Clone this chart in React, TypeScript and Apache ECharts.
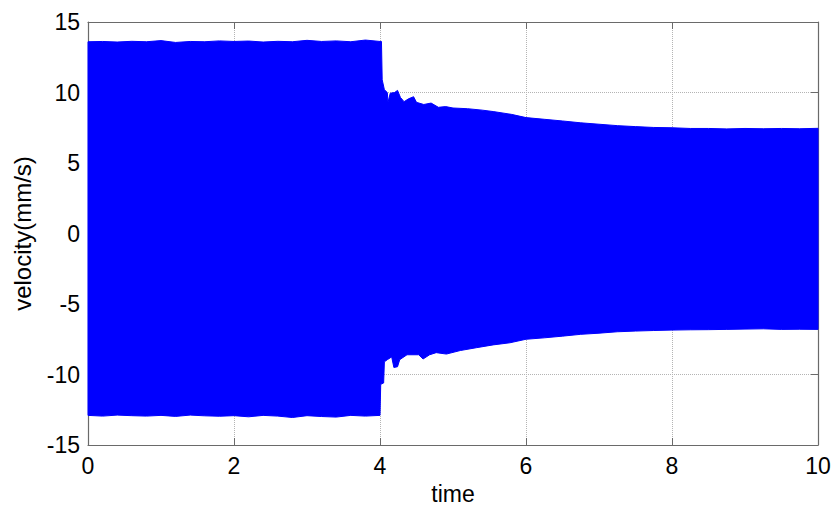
import React, { useEffect, useRef } from "react";
import * as echarts from "echarts";

// Upper envelope of the oscillating velocity signal (time, mm/s)
const upperTimes = [
  0, 0.2, 0.4, 0.6, 0.8, 1.0, 1.2, 1.4, 1.6, 1.8, 2.0, 2.2, 2.4, 2.6, 2.8, 3.0, 3.2, 3.4, 3.6, 3.8, 4.0, 4.02,
  4.03, 4.06, 4.1, 4.11, 4.14, 4.2, 4.24, 4.28, 4.33, 4.39, 4.46, 4.5, 4.6, 4.7, 4.8, 4.9, 5.0, 5.2, 5.4, 5.55,
  5.8, 6.0, 6.25, 6.5, 6.75, 7.0, 7.25, 7.5, 7.75, 8.0, 8.25, 8.5, 8.75, 9.0, 9.25, 9.5, 9.75, 10,
];
const upperValues = [
  13.6, 13.62, 13.58, 13.63, 13.6, 13.68, 13.55, 13.62, 13.6, 13.66, 13.62, 13.65, 13.58, 13.63, 13.6, 13.7, 13.62,
  13.66, 13.6, 13.72, 13.62, 13.62,
  10.9, 10.2, 10.0, 9.3, 9.95, 10.0, 10.15, 9.65, 9.35, 9.55, 9.7, 9.3, 9.15, 9.25, 8.95, 9.0, 8.9, 8.85, 8.75, 8.65,
  8.45, 8.22, 8.1, 7.98, 7.85, 7.75, 7.65, 7.58, 7.52, 7.5, 7.45, 7.45, 7.42, 7.45, 7.43, 7.45, 7.43, 7.46,
];

// Lower envelope of the oscillating velocity signal (time, mm/s)
const lowerTimes = [
  0, 0.2, 0.4, 0.6, 0.8, 1.0, 1.2, 1.4, 1.6, 1.8, 2.0, 2.2, 2.4, 2.6, 2.8, 3.0, 3.2, 3.4, 3.6, 3.8, 4.0,
  4.01, 4.05, 4.06, 4.1, 4.16, 4.19, 4.24, 4.27, 4.37, 4.53, 4.59, 4.68, 4.77, 4.91, 5.1, 5.32, 5.55, 5.78, 6.0,
  6.25, 6.5, 6.75, 7.0, 7.25, 7.5, 7.75, 8.0, 8.25, 8.5, 8.75, 9.0, 9.25, 9.5, 9.75, 10,
];
const lowerValues = [
  -12.9, -12.95, -12.88, -12.92, -12.95, -12.9, -12.97, -12.88, -12.93, -12.96, -12.92, -13.0, -12.9, -12.95, -13.05,
  -12.92, -12.98, -13.02, -12.9, -12.95, -12.9,
  -10.7, -10.6, -9.1, -8.95, -8.75, -9.5, -9.45, -8.95, -8.6, -8.6, -8.9, -8.6, -8.45, -8.55, -8.3, -8.1, -7.9, -7.75,
  -7.5, -7.4, -7.28, -7.15, -7.07, -6.97, -6.92, -6.88, -6.85, -6.83, -6.82, -6.8, -6.78, -6.76, -6.8, -6.79, -6.8,
];

const xTicks = { min: 0, max: 10, interval: 2 };
const yTicks = { min: -15, max: 15, interval: 5 };

const FONT = "'Liberation Sans', Arial, sans-serif";
const AXIS_COLOR = "#6a6a6a";
const BLUE = "#0000ff";

export default function App() {
  const ref = useRef<HTMLDivElement>(null);
  useEffect(() => {
    if (!ref.current) return;
    const chart = echarts.init(ref.current, undefined, { renderer: "svg" });
    const upper = upperTimes.map((t, i) => [t, upperValues[i]]);
    const lower = lowerTimes.map((t, i) => [t, lowerValues[i]]);
    const envelope = upper.concat(lower.slice().reverse());
    const tickStyle = { inside: true, length: 7, lineStyle: { color: AXIS_COLOR, width: 1 } };
    const lineStyleAxis = { show: true, onZero: false, lineStyle: { color: AXIS_COLOR, width: 1.2 } };
    const split = { show: true, lineStyle: { color: "#b4b4b4", type: "dotted" as const, width: 1 } };
    chart.setOption({
      animation: false,
      backgroundColor: "#ffffff",
      grid: { left: 88, right: 17, top: 22, bottom: 62, containLabel: false },
      xAxis: [
        {
          type: "value",
          ...xTicks,
          position: "bottom",
          axisLine: lineStyleAxis,
          axisTick: tickStyle,
          splitLine: split,
          axisLabel: { fontFamily: FONT, fontSize: 23, color: "#000", margin: 9 },
          name: "time",
          nameLocation: "middle",
          nameGap: 37,
          nameTextStyle: { fontFamily: FONT, fontSize: 23, color: "#000" },
        },
        {
          type: "value",
          ...xTicks,
          position: "top",
          axisLine: lineStyleAxis,
          axisTick: tickStyle,
          splitLine: { show: false },
          axisLabel: { show: false },
        },
      ],
      yAxis: [
        {
          type: "value",
          ...yTicks,
          position: "left",
          axisLine: lineStyleAxis,
          axisTick: tickStyle,
          splitLine: split,
          axisLabel: { fontFamily: FONT, fontSize: 23, color: "#000", margin: 8 },
          name: "velocity(mm/s)",
          nameLocation: "middle",
          nameGap: 54,
          nameTextStyle: { fontFamily: FONT, fontSize: 24, color: "#000" },
        },
        {
          type: "value",
          ...yTicks,
          position: "right",
          axisLine: lineStyleAxis,
          axisTick: tickStyle,
          splitLine: { show: false },
          axisLabel: { show: false },
        },
      ],
      series: [
        {
          type: "custom",
          xAxisIndex: 0,
          yAxisIndex: 0,
          data: envelope,
          encode: { x: 0, y: 1 },
          z: 1,
          renderItem: (params: any, api: any) => {
            if (params.dataIndex !== 0) return null;
            const points = envelope.map((p) => api.coord(p));
            return {
              type: "polygon",
              shape: { points },
              style: { fill: BLUE, stroke: BLUE, lineWidth: 1 },
            };
          },
        },
      ],
    });
    return () => chart.dispose();
  }, []);
  return (
    <div
      ref={ref}
      style={{ position: "fixed", left: 0, top: 0, width: 835, height: 510, background: "#fff" }}
    />
  );
}
